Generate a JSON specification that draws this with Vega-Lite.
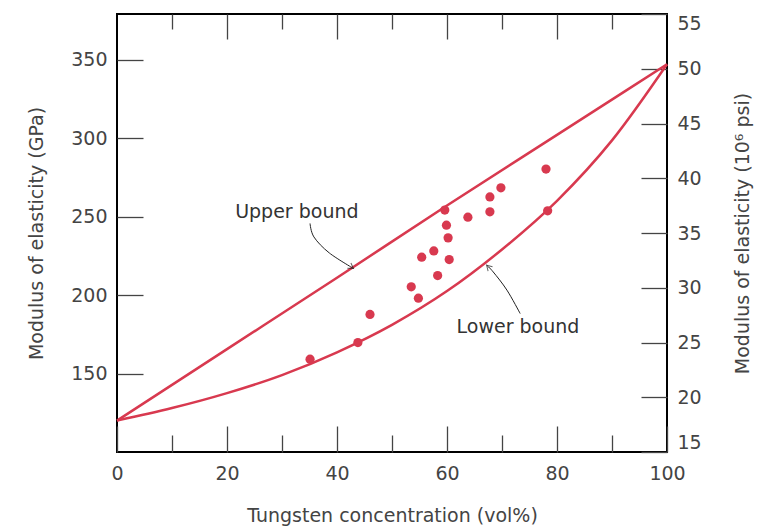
{
"$schema": "https://vega.github.io/schema/vega-lite/v6.json",
"width": 550, "height": 438,
"autosize": {"type": "none"},
"padding": {"left": 117, "top": 14, "right": 102, "bottom": 74},
"background": "white",
"config": {
  "view": {"stroke": "black", "strokeWidth": 2},
  "axis": {"domain": false, "grid": false, "labelFont": "DejaVu Sans", "labelFontSize": 19, "labelColor": "#444", "titleFont": "DejaVu Sans", "titleFontSize": 19, "titleFontWeight": "normal", "titleColor": "#444", "tickColor": "#444", "tickWidth": 1.3}
},
"datasets": {
  "upper": [{"vol": 0, "E": 120}, {"vol": 20, "E": 165.5}, {"vol": 40, "E": 211}, {"vol": 60, "E": 257}, {"vol": 80, "E": 302}, {"vol": 100, "E": 347}],
  "lower": [{"vol": 0, "E": 120}, {"vol": 10, "E": 128}, {"vol": 20, "E": 137.5}, {"vol": 30, "E": 149}, {"vol": 40, "E": 163.5}, {"vol": 50, "E": 181}, {"vol": 60, "E": 202.5}, {"vol": 70, "E": 229}, {"vol": 80, "E": 260}, {"vol": 90, "E": 298.5}, {"vol": 100, "E": 347}],
  "points": [{"vol": 35.1, "E": 159.1}, {"vol": 43.8, "E": 169.7}, {"vol": 46.0, "E": 187.6}, {"vol": 54.8, "E": 198.0}, {"vol": 53.5, "E": 205.2}, {"vol": 58.3, "E": 212.4}, {"vol": 55.4, "E": 224.1}, {"vol": 57.6, "E": 228.1}, {"vol": 60.4, "E": 222.6}, {"vol": 60.2, "E": 236.4}, {"vol": 59.9, "E": 244.5}, {"vol": 59.6, "E": 254.1}, {"vol": 63.8, "E": 249.6}, {"vol": 67.8, "E": 253.0}, {"vol": 67.8, "E": 262.5}, {"vol": 69.8, "E": 268.3}, {"vol": 78.0, "E": 280.2}, {"vol": 78.3, "E": 253.6}],
  "labels": [{"vol": 32.7, "E": 252.8, "text": "Upper bound"}, {"vol": 72.9, "E": 179.7, "text": "Lower bound"}],
  "arrows": [{"id": "u", "ord": 1, "vol": 35.1, "E": 245.6}, {"id": "u", "ord": 2, "vol": 35.8, "E": 237.0}, {"id": "u", "ord": 3, "vol": 38.6, "E": 226.8}, {"id": "u", "ord": 4, "vol": 43.0, "E": 216.9}, {"id": "l", "ord": 1, "vol": 73.3, "E": 188.2}, {"id": "l", "ord": 2, "vol": 70.9, "E": 203.1}, {"id": "l", "ord": 3, "vol": 68.4, "E": 214.7}, {"id": "l", "ord": 4, "vol": 67.2, "E": 219.0}],
  "heads": [{"vol": 43.0, "E": 216.9, "angle": 34}, {"vol": 67.2, "E": 219.0, "angle": 225}]
},
"resolve": {"scale": {"y": "independent"}, "axis": {"x": "independent", "y": "independent"}},
"layer": [
  {
    "data": {"name": "upper"},
    "mark": {"type": "line", "color": "#d8394f", "strokeWidth": 2.5, "interpolate": "monotone"},
    "encoding": {
      "x": {"field": "vol", "type": "quantitative", "scale": {"domain": [0, 100], "nice": false},
        "axis": {"orient": "bottom", "values": [0, 20, 40, 60, 80, 100], "tickSize": -26, "labelPadding": 38, "labelFlush": false, "title": "Tungsten concentration (vol%)", "titlePadding": 23}},
      "y": {"field": "E", "type": "quantitative", "scale": {"domain": [100, 379], "nice": false, "zero": false},
        "axis": {"orient": "left", "values": [150, 200, 250, 300, 350], "tickSize": -26, "labelPadding": 36, "title": "Modulus of elasticity (GPa)", "titlePadding": 24}}
    }
  },
  {
    "data": {"name": "lower"},
    "mark": {"type": "line", "color": "#d8394f", "strokeWidth": 2.5, "interpolate": "monotone"},
    "encoding": {
      "x": {"field": "vol", "type": "quantitative", "scale": {"domain": [0, 100], "nice": false},
        "axis": {"orient": "bottom", "values": [10, 30, 50, 70, 90], "tickSize": -17, "labels": false, "title": null}},
      "y": {"field": "E", "type": "quantitative", "scale": {"domain": [100, 379], "nice": false, "zero": false}, "axis": null}
    }
  },
  {
    "data": {"name": "points"},
    "mark": {"type": "circle", "color": "#d8394f", "opacity": 1, "size": 85},
    "encoding": {
      "x": {"field": "vol", "type": "quantitative", "scale": {"domain": [0, 100], "nice": false},
        "axis": {"orient": "top", "values": [20, 40, 60, 80], "tickSize": -25, "labels": false, "title": null}},
      "y": {"field": "E", "type": "quantitative", "scale": {"domain": [100, 379], "nice": false, "zero": false}, "axis": null}
    }
  },
  {
    "data": {"name": "points"},
    "mark": {"type": "point", "opacity": 0},
    "encoding": {
      "x": {"field": "vol", "type": "quantitative", "scale": {"domain": [0, 100], "nice": false},
        "axis": {"orient": "top", "values": [10, 30, 50, 70, 90], "tickSize": -15, "labels": false, "title": null}},
      "y": {"datum": 30, "type": "quantitative", "scale": {"domain": [15, 55], "nice": false, "zero": false},
        "axis": {"orient": "right", "values": [15, 20, 25, 30, 35, 40, 45, 50, 55], "tickSize": -26, "labelPadding": 36, "labelFlush": true, "title": "Modulus of elasticity (10⁶ psi)", "titleAngle": 270, "titlePadding": 51}}
    }
  },
  {
    "data": {"name": "arrows"},
    "mark": {"type": "line", "color": "#222", "strokeWidth": 1, "interpolate": "cardinal"},
    "encoding": {
      "x": {"field": "vol", "type": "quantitative", "scale": {"domain": [0, 100], "nice": false}, "axis": null},
      "y": {"field": "E", "type": "quantitative", "scale": {"domain": [100, 379], "nice": false, "zero": false}, "axis": null},
      "detail": {"field": "id"},
      "order": {"field": "ord"}
    }
  },
  {
    "data": {"name": "heads"},
    "mark": {"type": "point", "shape": "M-1,-0.6L0,0L-1,0.6", "filled": false, "stroke": "#222", "strokeWidth": 1, "size": 110},
    "encoding": {
      "x": {"field": "vol", "type": "quantitative", "scale": {"domain": [0, 100], "nice": false}, "axis": null},
      "y": {"field": "E", "type": "quantitative", "scale": {"domain": [100, 379], "nice": false, "zero": false}, "axis": null},
      "angle": {"field": "angle", "type": "quantitative", "scale": null}
    }
  },
  {
    "data": {"name": "labels"},
    "mark": {"type": "text", "font": "DejaVu Sans", "fontSize": 19, "color": "#333"},
    "encoding": {
      "x": {"field": "vol", "type": "quantitative", "scale": {"domain": [0, 100], "nice": false}, "axis": null},
      "y": {"field": "E", "type": "quantitative", "scale": {"domain": [100, 379], "nice": false, "zero": false}, "axis": null},
      "text": {"field": "text"}
    }
  }
]
}
